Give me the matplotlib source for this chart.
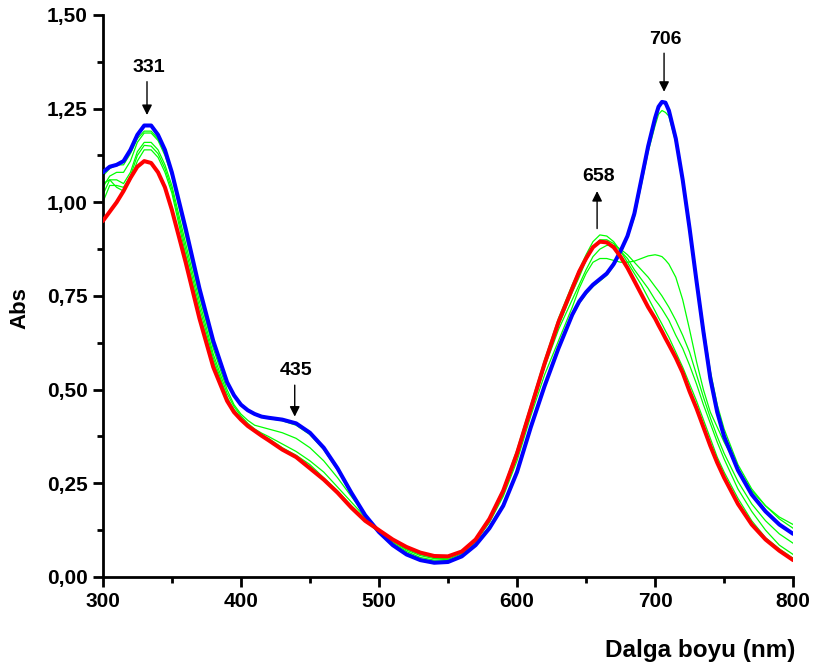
import numpy as np
import matplotlib.pyplot as plt
from matplotlib.ticker import MultipleLocator, FuncFormatter

# ============================================
# UV-Vis spektrumları (Abs - dalga boyu)
# ============================================
wl = [300, 305, 310, 315, 320, 325, 330, 335, 340, 345, 350,
      360, 370, 380, 390, 395, 400, 405, 410, 415, 420,
      430, 440, 450, 460, 470, 480, 490, 500, 510, 520, 530, 540, 550, 560, 570, 580, 590,
      600, 610, 620, 630, 640,
      645, 650, 655, 660, 665, 670, 675, 680, 685, 690, 695, 700, 702.5, 705, 707.5, 710,
      715, 720, 725, 730, 735, 740, 745, 750,
      760, 770, 780, 790, 800]

# başlangıç spektrumu (mavi)
abs_start = [1.08, 1.095, 1.10, 1.11, 1.14, 1.18, 1.205, 1.205, 1.18, 1.14, 1.08,
             0.93, 0.77, 0.63, 0.52, 0.485, 0.46, 0.445, 0.435, 0.428, 0.425,
             0.42, 0.41, 0.385, 0.345, 0.29, 0.225, 0.165, 0.12, 0.085, 0.06, 0.045, 0.038, 0.04, 0.055, 0.085, 0.13, 0.19,
             0.28, 0.40, 0.51, 0.61, 0.70,
             0.735, 0.76, 0.78, 0.795, 0.81, 0.835, 0.87, 0.91, 0.97, 1.06, 1.15, 1.225, 1.255, 1.268, 1.266, 1.245,
             1.17, 1.06, 0.93, 0.79, 0.655, 0.53, 0.44, 0.375,
             0.285, 0.22, 0.175, 0.14, 0.115]

# son spektrum (kırmızı)
abs_end = [0.95, 0.975, 1.00, 1.03, 1.065, 1.095, 1.11, 1.105, 1.08, 1.04, 0.98,
           0.84, 0.69, 0.56, 0.47, 0.44, 0.42, 0.403, 0.39, 0.377, 0.365,
           0.34, 0.32, 0.29, 0.26, 0.225, 0.185, 0.15, 0.125, 0.10, 0.08, 0.065, 0.056, 0.055, 0.068, 0.10, 0.155, 0.23,
           0.33, 0.45, 0.57, 0.68, 0.77,
           0.815, 0.85, 0.88, 0.895, 0.893, 0.88, 0.855, 0.825, 0.79, 0.755, 0.72, 0.69, 0.672, 0.655, 0.637, 0.62,
           0.585, 0.545, 0.495, 0.45, 0.40, 0.35, 0.305, 0.265,
           0.195, 0.14, 0.10, 0.07, 0.045]

# ara spektrumlar (yeşil)
abs_t1 = [1.07, 1.09, 1.10, 1.10, 1.13, 1.17, 1.19, 1.19, 1.17, 1.13, 1.075,
          0.925, 0.765, 0.625, 0.52, 0.485, 0.46, 0.444, 0.433, 0.427, 0.423,
          0.417, 0.405, 0.38, 0.34, 0.285, 0.22, 0.165, 0.12, 0.088, 0.063, 0.048, 0.042, 0.044, 0.058, 0.09, 0.135, 0.195,
          0.285, 0.40, 0.51, 0.61, 0.695,
          0.73, 0.755, 0.775, 0.79, 0.805, 0.83, 0.865, 0.905, 0.96, 1.045, 1.135, 1.205, 1.235, 1.245, 1.24, 1.23,
          1.16, 1.06, 0.935, 0.80, 0.67, 0.55, 0.46, 0.395,
          0.30, 0.235, 0.19, 0.155, 0.13]

abs_t2 = [1.04, 1.07, 1.08, 1.08, 1.11, 1.16, 1.185, 1.185, 1.165, 1.125, 1.07,
          0.91, 0.75, 0.61, 0.50, 0.46, 0.435, 0.418, 0.405, 0.40, 0.395,
          0.385, 0.37, 0.345, 0.31, 0.265, 0.215, 0.165, 0.125, 0.092, 0.068, 0.052, 0.045, 0.047, 0.062, 0.095, 0.145, 0.215,
          0.31, 0.43, 0.54, 0.63, 0.72,
          0.77, 0.81, 0.84, 0.85, 0.85, 0.845, 0.84, 0.84, 0.843, 0.85, 0.857, 0.86, 0.858, 0.855, 0.846, 0.835,
          0.80, 0.74, 0.66, 0.575, 0.50, 0.44, 0.40, 0.36,
          0.29, 0.23, 0.19, 0.16, 0.14]

abs_t3 = [1.02, 1.06, 1.06, 1.05, 1.08, 1.135, 1.16, 1.16, 1.14, 1.10, 1.045,
          0.89, 0.735, 0.595, 0.49, 0.455, 0.43, 0.41, 0.395, 0.384, 0.375,
          0.355, 0.335, 0.31, 0.28, 0.24, 0.20, 0.16, 0.125, 0.095, 0.072, 0.057, 0.049, 0.05, 0.065, 0.10, 0.15, 0.22,
          0.32, 0.44, 0.56, 0.66, 0.74,
          0.78, 0.82, 0.855, 0.875, 0.885, 0.885, 0.875, 0.86, 0.84, 0.82, 0.80, 0.775, 0.763, 0.75, 0.735, 0.72,
          0.685, 0.645, 0.60, 0.54, 0.48, 0.425, 0.375, 0.33,
          0.255, 0.195, 0.15, 0.115, 0.09]

abs_t4 = [1.00, 1.045, 1.045, 1.04, 1.07, 1.125, 1.152, 1.15, 1.13, 1.09, 1.035,
          0.875, 0.72, 0.585, 0.48, 0.447, 0.425, 0.405, 0.39, 0.38, 0.37,
          0.345, 0.325, 0.30, 0.265, 0.23, 0.19, 0.155, 0.125, 0.097, 0.075, 0.06, 0.052, 0.052, 0.067, 0.10, 0.155, 0.23,
          0.33, 0.45, 0.565, 0.67, 0.76,
          0.80, 0.845, 0.88, 0.90, 0.90, 0.89, 0.87, 0.85, 0.82, 0.795, 0.77, 0.74, 0.728, 0.715, 0.70, 0.685,
          0.645, 0.61, 0.565, 0.515, 0.46, 0.41, 0.36, 0.315,
          0.235, 0.175, 0.125, 0.085, 0.06]

abs_t5 = [1.05, 1.06, 1.04, 1.03, 1.06, 1.11, 1.14, 1.14, 1.12, 1.08, 1.025,
          0.86, 0.705, 0.575, 0.475, 0.44, 0.42, 0.403, 0.39, 0.377, 0.365,
          0.342, 0.322, 0.295, 0.262, 0.228, 0.19, 0.155, 0.127, 0.10, 0.078, 0.062, 0.054, 0.054, 0.068, 0.102, 0.158, 0.235,
          0.34, 0.46, 0.58, 0.69, 0.78,
          0.82, 0.86, 0.895, 0.913, 0.91, 0.895, 0.87, 0.84, 0.81, 0.78, 0.745, 0.71, 0.692, 0.675, 0.657, 0.64,
          0.60, 0.56, 0.515, 0.47, 0.42, 0.37, 0.32, 0.28,
          0.21, 0.15, 0.105, 0.075, 0.05]

# pik etiketleri ve okları
peak_labels = ['331', '435', '658', '706']
peak_x = [332, 439, 658, 706.5]
arrow_tip = [1.233, 0.428, 1.03, 1.295]
arrow_tail = [1.322, 0.512, 0.93, 1.398]
label_y = [1.36, 0.55, 1.07, 1.435]

# ============================================
# Çizim
# ============================================
plt.rcParams['font.family'] = ['Liberation Sans', 'DejaVu Sans']
plt.rcParams['font.weight'] = 'bold'

fig = plt.figure(figsize=(8.16, 6.72), dpi=100)
ax = fig.add_axes([0.126, 0.1414, 0.846, 0.8363])

for a in [abs_t1, abs_t2, abs_t3, abs_t4, abs_t5]:
    ax.plot(wl, a, color='#00ff00', lw=0.9, zorder=2)
ax.plot(wl, abs_start, color='#0000ff', lw=2.9, zorder=3,
        solid_joinstyle='round', solid_capstyle='round')
ax.plot(wl, abs_end, color='#ff0000', lw=2.9, zorder=3,
        solid_joinstyle='round', solid_capstyle='round')

for lab, x, tip, tail, ty in zip(peak_labels, peak_x, arrow_tip, arrow_tail, label_y):
    ax.annotate('', xy=(x, tip), xytext=(x, tail),
                arrowprops=dict(arrowstyle='-|>', color='black', lw=1.0,
                                mutation_scale=15, shrinkA=0, shrinkB=0))
    ax.text(x + 1, ty, lab, ha='center', va='center', fontsize=14, fontweight='bold')

ax.set_xlim(300, 800)
ax.set_ylim(0, 1.5)
ax.xaxis.set_major_locator(MultipleLocator(100))
ax.xaxis.set_minor_locator(MultipleLocator(50))
ax.yaxis.set_major_locator(MultipleLocator(0.25))
ax.yaxis.set_minor_locator(MultipleLocator(0.125))
ax.yaxis.set_major_formatter(FuncFormatter(lambda v, p: f'{v:.2f}'.replace('.', ',')))

for side in ['top', 'right']:
    ax.spines[side].set_visible(False)
for side in ['left', 'bottom']:
    ax.spines[side].set_linewidth(2.0)

ax.tick_params(which='major', direction='out', length=7, width=2, labelsize=15, pad=4)
ax.tick_params(which='minor', direction='out', length=4, width=2)
for t in ax.get_xticklabels() + ax.get_yticklabels():
    t.set_fontweight('bold')

ax.set_ylabel('Abs', fontsize=16, fontweight='bold')
ax.yaxis.set_label_coords(-0.105, 0.478)
ax.set_xlabel('Dalga boyu (nm)', fontsize=17.5, fontweight='bold', ha='right')
ax.xaxis.set_label_coords(1.003, -0.11)

plt.savefig('out.png', dpi=100)
